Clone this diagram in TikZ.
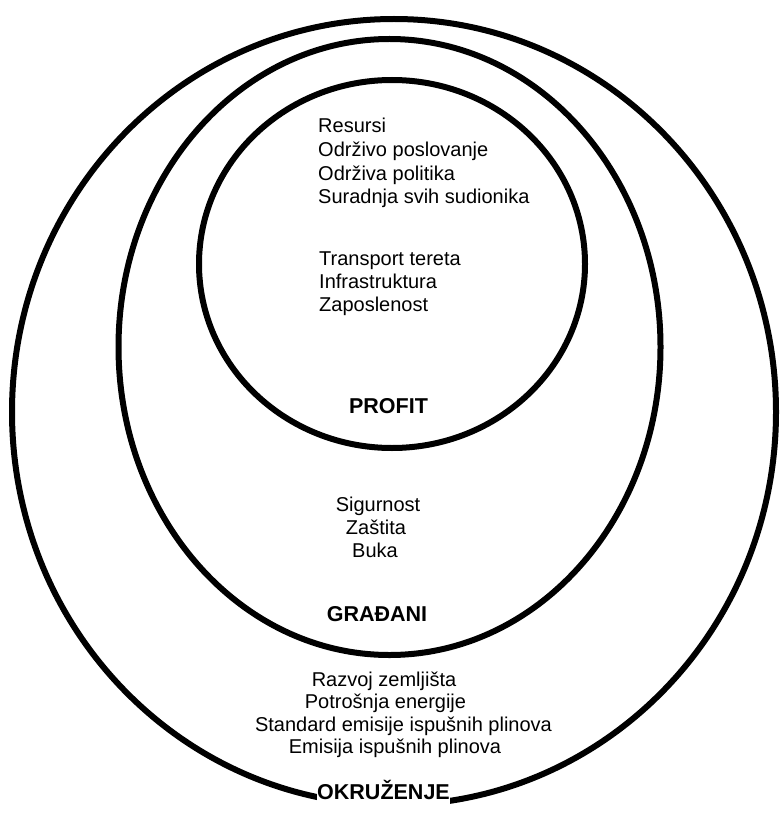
\documentclass[tikz,border=0pt]{standalone}
\usepackage{fontspec}
\setmainfont{Liberation Sans}

\begin{document}
\begin{tikzpicture}[x=1pt,y=-1pt,
    ring/.style={line width=6pt},
    item/.style={inner sep=0pt,anchor=base,font=\fontsize{20}{23}\selectfont},
    title/.style={inner sep=0pt,anchor=base,font=\fontsize{21.5}{25}\selectfont\bfseries}]
    \useasboundingbox (0,0) rectangle (779,813);
    \draw[ring] (394,412) ellipse [x radius=382pt, y radius=393pt];
    \draw[ring] (389.5,347) ellipse [x radius=271pt, y radius=308pt];
    \draw[ring] (392,264) ellipse [x radius=193pt, y radius=184pt];
    % profit
    \node[item,anchor=base west] (resursi) at (318,133) {Resursi};
    \node[item,anchor=base west] (poslovanje) at (318,156.5) {Održivo poslovanje};
    \node[item,anchor=base west] (politika) at (318,180) {Održiva politika};
    \node[item,anchor=base west] (suradnja) at (318,203) {Suradnja svih sudionika};
    \node[item,anchor=base west] (transport) at (319,265) {Transport tereta};
    \node[item,anchor=base west] (infra) at (319,288) {Infrastruktura};
    \node[item,anchor=base west] (zaposlenost) at (319,311.5) {Zaposlenost};
    \node[title] (profit) at (388.5,413) {PROFIT};
    % gradani
    \node[item] (sigurnost) at (378,511.5) {Sigurnost};
    \node[item] (zastita) at (376,534) {Zaštita};
    \node[item] (buka) at (375,557) {Buka};
    \node[title] (gradani) at (377,621) {GRAĐANI};
    % okruzenje
    \node[item] (razvoj) at (384,686) {Razvoj zemljišta};
    \node[item] (energija) at (385.5,708) {Potrošnja energije};
    \node[item] (standard) at (403.5,731) {Standard emisije ispušnih plinova};
    \node[item] (emisija) at (395,753) {Emisija ispušnih plinova};
    \node[title,fill=white,inner ysep=12pt] (okruzenje) at (383.5,799) {OKRUŽENJE};
\end{tikzpicture}
\end{document}
